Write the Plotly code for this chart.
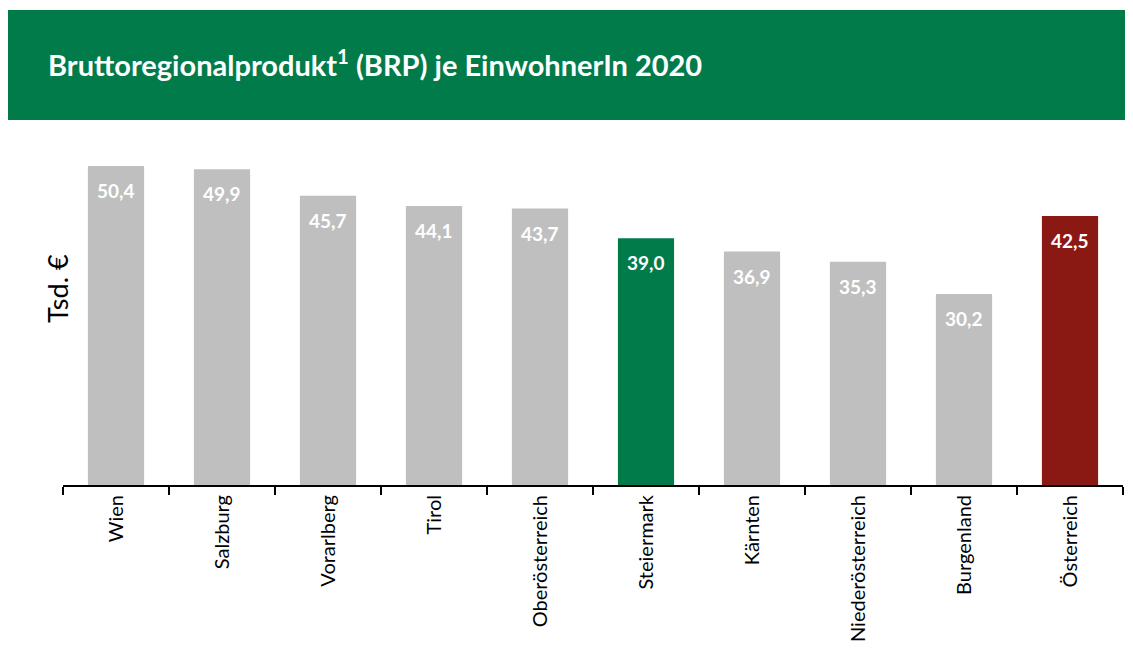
import plotly.graph_objects as go

# Bruttoregionalprodukt je EinwohnerIn 2020, Tsd. Euro
regions = ["Wien", "Salzburg", "Vorarlberg", "Tirol", "Oberösterreich",
           "Steiermark", "Kärnten", "Niederösterreich", "Burgenland", "Österreich"]
brp_values = [50.4, 49.9, 45.7, 44.1, 43.7, 39.0, 36.9, 35.3, 30.2, 42.5]

GREEN = "#027B4B"
RED = "#8B1913"
GREY = "#BFBFBF"

bar_colors = []
for r in regions:
    if r == "Steiermark":
        bar_colors.append(GREEN)
    elif r == "Österreich":
        bar_colors.append(RED)
    else:
        bar_colors.append(GREY)

labels = [f"{v:.1f}".replace(".", ",") for v in brp_values]

# page body adds an 8px offset, so screen coords are shifted by OFF
OFF = 8
W, H = 1125, 645
ML, MT = 63 - OFF, 137 - OFF
pw = 1060
ph = 348
MR = W - ML - pw
MB = H - MT - ph


def px_x(x):
    return (x - OFF - ML) / pw


def px_y(y):
    return (MT + ph - (y - OFF)) / ph


fig = go.Figure(go.Bar(
    x=regions,
    y=brp_values,
    marker=dict(color=bar_colors, line=dict(width=0)),
    hoverinfo="x+y",
))

# value labels inside the bar tops
for r, v, t in zip(regions, brp_values, labels):
    fig.add_annotation(
        x=r, y=v, text=f"<b>{t}</b>", showarrow=False,
        yanchor="top", yshift=-11,
        font=dict(family="Lato", size=19, color="white"),
    )

# green header banner
fig.add_shape(
    type="rect", xref="paper", yref="paper",
    x0=px_x(7), x1=px_x(1145), y0=px_y(120), y1=px_y(10),
    fillcolor=GREEN, line=dict(width=0), layer="below",
)
fig.add_annotation(
    xref="paper", yref="paper", x=px_x(46), y=px_y(63),
    xanchor="left", yanchor="middle", showarrow=False,
    text="<b>Bruttoregionalprodukt<sup>1</sup> (BRP) je EinwohnerIn 2020</b>",
    font=dict(family="Lato", size=29, color="white"),
)

# y axis title
fig.add_annotation(
    xref="paper", yref="paper", x=px_x(57), y=px_y(289),
    xanchor="center", yanchor="middle", showarrow=False, textangle=-90,
    text="Tsd. €", font=dict(family="Lato", size=27, color="black"),
)

fig.update_layout(
    width=W, height=H,
    margin=dict(l=ML, r=MR, t=MT, b=MB),
    paper_bgcolor="white", plot_bgcolor="white",
    bargap=0.47,
    showlegend=False,
    xaxis=dict(
        showline=True, linecolor="black", linewidth=2,
        ticks="outside", tickson="boundaries", ticklen=8, tickwidth=2,
        tickcolor="black", tickangle=-90,
        tickfont=dict(family="Lato", size=20, color="black"),
        showgrid=False,
    ),
    yaxis=dict(
        range=[0, 55], visible=False, showgrid=False,
    ),
)

fig.write_html("out.html")
